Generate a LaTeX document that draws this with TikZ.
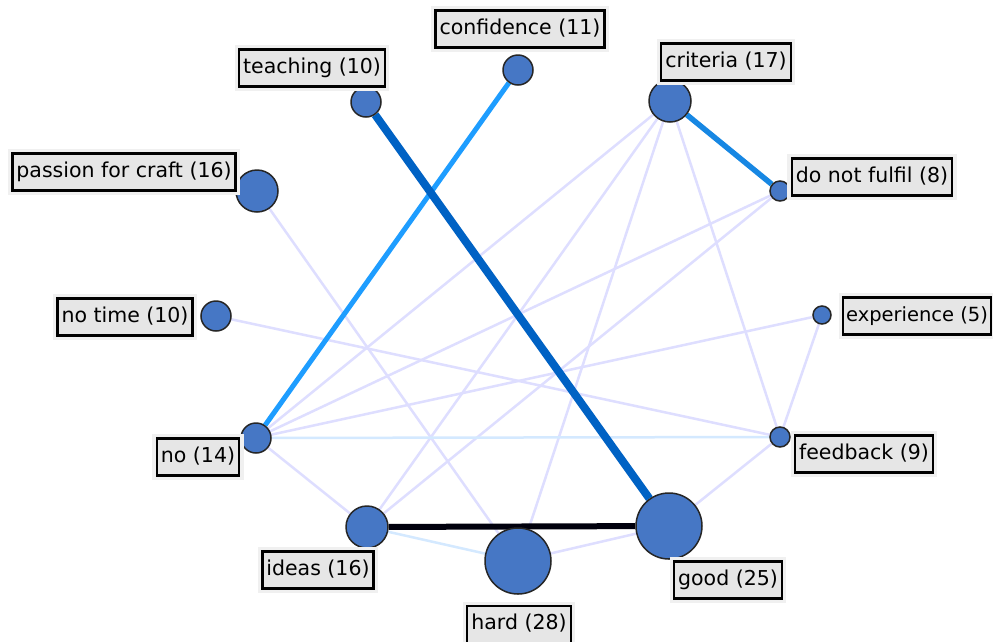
\documentclass[tikz,border=0pt]{standalone}
\usepackage{fontspec}
\setmainfont{DejaVu Sans}
\usepackage{xcolor}
\usetikzlibrary{positioning, backgrounds}
\definecolor{nodeblue}{HTML}{4677C5}
\definecolor{tagfill}{HTML}{E6E6E6}
\definecolor{strongblue}{HTML}{0062C4}
\definecolor{midblue}{HTML}{1787E3}
\definecolor{brightblue}{HTML}{1E9DFF}
\definecolor{lavender}{HTML}{DEDEFF}
\definecolor{paleblue}{HTML}{D4E9FF}
\tikzstyle{term} = [circle, inner sep=0pt, fill=nodeblue, draw=black!85, line width=1.5pt]
\tikzstyle{tag} = [rectangle, draw=black, fill=tagfill, line width=2.2pt,
                   minimum height=37pt, inner xsep=4pt, text height=15pt, text depth=4.5pt,
                   font=\fontsize{20.5}{24}\selectfont,
                   preaction={draw=black!6, line width=9pt}]
\tikzstyle{weak} = [draw=lavender, line width=2.5pt]
\tikzstyle{pale} = [draw=paleblue, line width=2.5pt]

\begin{document}
\begin{tikzpicture}[x=1pt, y=-1pt]
    \useasboundingbox (0,0) rectangle (993,641);

    % Terms (circles)
    \node[term, minimum size=30pt] (confidence) at (518,70) {};
    \node[term, minimum size=30pt] (teaching) at (366,102) {};
    \node[term, minimum size=42pt] (criteria) at (670,101) {};
    \node[term, minimum size=20pt] (fulfil) at (780,191) {};
    \node[term, minimum size=42pt] (passion) at (257,191) {};
    \node[term, minimum size=30pt] (notime) at (216,316) {};
    \node[term, minimum size=18pt] (experience) at (822,315) {};
    \node[term, minimum size=30pt] (no) at (256,438) {};
    \node[term, minimum size=20pt] (feedback) at (780,437) {};
    \node[term, minimum size=42pt] (ideas) at (367,527) {};
    \node[term, minimum size=66pt] (hard) at (518,561) {};
    \node[term, minimum size=66pt] (good) at (669,526) {};

    % Edges
    \begin{scope}[on background layer]
        \fill[white] (0,0) rectangle (993,641);
        \draw[weak] (passion) -- (hard);
        \draw[weak] (notime) -- (feedback);
        \draw[weak] (no) -- (criteria);
        \draw[weak] (no) -- (fulfil);
        \draw[weak] (no) -- (experience);
        \draw[weak] (no) -- (ideas);
        \draw[weak] (criteria) -- (ideas);
        \draw[weak] (criteria) -- (hard);
        \draw[weak] (criteria) -- (feedback);
        \draw[weak] (fulfil) -- (ideas);
        \draw[weak] (experience) -- (feedback);
        \draw[weak] (feedback) -- (good);
        \draw[weak] (hard) -- (good);
        \draw[pale] (no) -- (feedback);
        \draw[pale] (ideas) -- (hard);
        \draw[draw=brightblue, line width=5pt] (confidence) -- (no);
        \draw[draw=midblue, line width=5.5pt] (criteria) -- (fulfil);
        \draw[draw=strongblue, line width=8pt] (teaching) -- (good);
        \draw[draw=black!95!blue, line width=6pt] (ideas) -- (good);
    \end{scope}

    % Labels
    \node[tag] (confidence-l) at (520,29) {confidence (11)};
    \node[tag] (teaching-l) at (312,68) {teaching (10)};
    \node[tag] (criteria-l) at (726,62) {criteria (17)};
    \node[tag] (fulfil-l) at (872,177) {do not fulfil (8)};
    \node[tag] (passion-l) at (124,172) {passion for craft (16)};
    \node[tag] (notime-l) at (125,317) {no time (10)};
    \node[tag, anchor=west, inner xsep=3pt, font=\fontsize{19.5}{24}\selectfont] (experience-l) at (842,316) {experience (5)};
    \node[tag] (no-l) at (198,457) {no (14)};
    \node[tag] (feedback-l) at (864,454) {feedback (9)};
    \node[tag] (ideas-l) at (318,570) {ideas (16)};
    \node[tag, anchor=north] (hard-l) at (519,605) {hard (28)};
    \node[tag] (good-l) at (728,580) {good (25)};
\end{tikzpicture}
\end{document}
